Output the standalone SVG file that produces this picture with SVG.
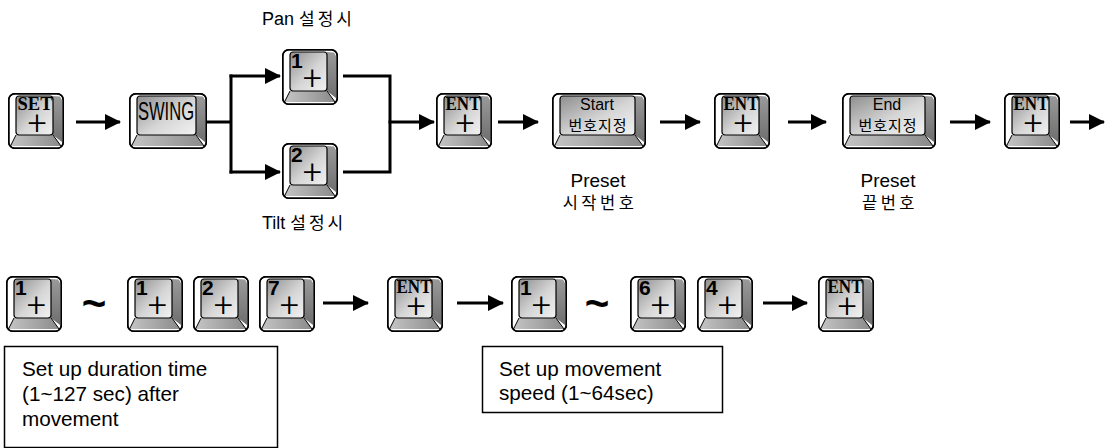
<svg xmlns="http://www.w3.org/2000/svg" xmlns:xlink="http://www.w3.org/1999/xlink" width="1105" height="448" viewBox="0 0 1105 448">
<style>
.outer{fill:#fff;stroke:#000;stroke-width:1.5}
.rb{fill:url(#gRight)}
.bb{fill:url(#gBottom)}
.face{fill:url(#gFace);stroke:#000;stroke-width:1.2}
.edge{stroke:#000;stroke-width:1;fill:none}
.conn{stroke:#000;stroke-width:3;fill:none}
.lbl{font-family:"Liberation Sans","Noto Sans CJK KR",sans-serif;fill:#000}
.kr{font-family:"Noto Sans CJK KR","Liberation Sans",sans-serif}
.serifkey{font-family:"Liberation Serif","Times New Roman",serif;font-weight:bold;font-size:19px;fill:#000}
.digit{font-family:"Liberation Sans",Arial,sans-serif;font-weight:bold;font-size:21px;fill:#000}
.plus{font-family:Roboto,"DejaVu Sans",sans-serif;font-weight:300;font-size:34px;fill:#000}
.pm{text-anchor:middle}
.tilde{font-family:"Liberation Sans",Arial,sans-serif;font-weight:bold;font-size:42px;text-anchor:middle}
.box{fill:#fff;stroke:#000;stroke-width:1.5}
.boxt{font-family:"Liberation Sans",Arial,sans-serif;font-size:20.7px;fill:#000}
</style>
<defs>
<linearGradient id="gFace" x1="0" y1="0" x2="1" y2="1">
<stop offset="0" stop-color="#8e8e8e"/>
<stop offset="0.55" stop-color="#d6d6d6"/>
<stop offset="1" stop-color="#f2f2f2"/>
</linearGradient>
<linearGradient id="gRight" x1="0" y1="0" x2="0" y2="1">
<stop offset="0" stop-color="#9a9a9a"/>
<stop offset="1" stop-color="#6e6e6e"/>
</linearGradient>
<linearGradient id="gBottom" x1="0" y1="0" x2="1" y2="0">
<stop offset="0" stop-color="#c4c4c4"/>
<stop offset="0.5" stop-color="#a8a8a8"/>
<stop offset="1" stop-color="#8a8a8a"/>
</linearGradient>
<marker id="arr" viewBox="0 0 16 16" refX="15" refY="8" markerWidth="16" markerHeight="16" markerUnits="userSpaceOnUse" orient="auto">
<path d="M0,0 L16,8 L0,16 z" fill="#000"/>
</marker>
<g id="k56">
<rect class="outer" x="0.75" y="0.75" width="54.5" height="54.5" rx="6"/>
<polygon class="rb" points="45,3 52,3.5 54,7 54,49 45,42"/>
<polygon class="bb" points="8,42 45,42 53,53 2.5,53"/>
<rect class="face" x="8" y="3" width="37" height="39" rx="3"/>
<path class="edge" d="M8,42 L2.5,53 M45,42 L53,53"/>
<rect x="0.75" y="0.75" width="54.5" height="54.5" rx="6" fill="none" stroke="#000" stroke-width="1.5"/>
</g>
<g id="k77">
<rect class="outer" x="0.75" y="0.75" width="76.5" height="54.5" rx="6"/>
<polygon class="rb" points="67,3 74,3.5 76,7 76,49 67,42"/>
<polygon class="bb" points="8,42 67,42 75,53 2.5,53"/>
<rect class="face" x="8" y="3" width="59" height="39" rx="3"/>
<path class="edge" d="M8,42 L2.5,53 M67,42 L75,53"/>
<rect x="0.75" y="0.75" width="76.5" height="54.5" rx="6" fill="none" stroke="#000" stroke-width="1.5"/>
</g>
<g id="k93">
<rect class="outer" x="0.75" y="0.75" width="92.5" height="54.5" rx="6"/>
<polygon class="rb" points="83,3 90,3.5 92,7 92,49 83,42"/>
<polygon class="bb" points="8,42 83,42 91,53 2.5,53"/>
<rect class="face" x="8" y="3" width="75" height="39" rx="3"/>
<path class="edge" d="M8,42 L2.5,53 M83,42 L91,53"/>
<rect x="0.75" y="0.75" width="92.5" height="54.5" rx="6" fill="none" stroke="#000" stroke-width="1.5"/>
</g>
</defs>
<rect width="1105" height="448" fill="#fff"/>

<g id="connectors">
<path class="conn" d="M76,122 H120" marker-end="url(#arr)"/>
<path class="conn" d="M206,122 H231 M231,74.5 V173.5"/>
<path class="conn" d="M229.5,76 H280" marker-end="url(#arr)"/>
<path class="conn" d="M229.5,172 H280" marker-end="url(#arr)"/>
<path class="conn" d="M343,76 H390 V172 H343"/>
<path class="conn" d="M388.5,122 H434" marker-end="url(#arr)"/>
<path class="conn" d="M498,122 H538" marker-end="url(#arr)"/>
<path class="conn" d="M660,122 H700" marker-end="url(#arr)"/>
<path class="conn" d="M788,122 H826" marker-end="url(#arr)"/>
<path class="conn" d="M950,122 H990" marker-end="url(#arr)"/>
<path class="conn" d="M1070,122 H1104" marker-end="url(#arr)"/>
<path class="conn" d="M323,303 H368" marker-end="url(#arr)"/>
<path class="conn" d="M457,303 H503" marker-end="url(#arr)"/>
<path class="conn" d="M763,303 H807" marker-end="url(#arr)"/>
</g>

<g id="label-pan"><text class="lbl" x="262" y="25" font-size="18">Pan <tspan class="kr" font-size="17" letter-spacing="3">설정시</tspan></text></g>
<g id="label-tilt"><text class="lbl" x="262" y="229" font-size="18">Tilt <tspan class="kr" font-size="17" letter-spacing="3">설정시</tspan></text></g>

<g id="key-set">
<use xlink:href="#k56" href="#k56" transform="translate(8,93)"/>
<text class="serifkey"><tspan x="35" y="110" text-anchor="middle" textLength="35" lengthAdjust="spacingAndGlyphs">SET</tspan><tspan class="plus pm" x="37" y="134">+</tspan></text>
</g>
<g id="key-swing">
<use xlink:href="#k77" href="#k77" transform="translate(129,93)"/>
<text class="lbl" x="166" y="120" font-size="25" text-anchor="middle" textLength="56" lengthAdjust="spacingAndGlyphs">SWING</text>
</g>
<g id="key-pan1">
<use xlink:href="#k56" href="#k56" transform="translate(282,49)"/>
<text class="digit" x="291" y="68">1<tspan class="plus" dy="21">+</tspan></text>
</g>
<g id="key-tilt2">
<use xlink:href="#k56" href="#k56" transform="translate(282,143)"/>
<text class="digit" x="291" y="162">2<tspan class="plus" dy="21">+</tspan></text>
</g>
<g id="key-ent1">
<use xlink:href="#k56" href="#k56" transform="translate(436,93)"/>
<text class="serifkey"><tspan x="463" y="110" text-anchor="middle" textLength="35" lengthAdjust="spacingAndGlyphs">ENT</tspan><tspan class="plus pm" x="465" y="134">+</tspan></text>
</g>
<g id="key-start">
<use xlink:href="#k93" href="#k93" transform="translate(552,93)"/>
<text class="lbl" font-size="16" fill="#222"><tspan x="597" y="110" text-anchor="middle">Start</tspan><tspan class="kr" x="598" y="131" font-size="15" text-anchor="middle" letter-spacing="1">번호지정</tspan></text>
</g>
<g id="key-ent2">
<use xlink:href="#k56" href="#k56" transform="translate(714,93)"/>
<text class="serifkey"><tspan x="741" y="110" text-anchor="middle" textLength="35" lengthAdjust="spacingAndGlyphs">ENT</tspan><tspan class="plus pm" x="743" y="134">+</tspan></text>
</g>
<g id="key-end">
<use xlink:href="#k93" href="#k93" transform="translate(842,93)"/>
<text class="lbl" font-size="16" fill="#222"><tspan x="887" y="110" text-anchor="middle">End</tspan><tspan class="kr" x="888" y="131" font-size="15" text-anchor="middle" letter-spacing="1">번호지정</tspan></text>
</g>
<g id="key-ent3">
<use xlink:href="#k56" href="#k56" transform="translate(1004,93)"/>
<text class="serifkey"><tspan x="1031" y="110" text-anchor="middle" textLength="35" lengthAdjust="spacingAndGlyphs">ENT</tspan><tspan class="plus pm" x="1033" y="134">+</tspan></text>
</g>

<g id="label-start">
<text class="lbl" font-size="19" text-anchor="middle"><tspan x="598" y="187">Preset</tspan><tspan class="kr" x="600" y="209" font-size="16.5" letter-spacing="3.5">시작번호</tspan></text>
</g>
<g id="label-end">
<text class="lbl" font-size="19" text-anchor="middle"><tspan x="888" y="187">Preset</tspan><tspan class="kr" x="890" y="209" font-size="16.5" letter-spacing="3.5">끝번호</tspan></text>
</g>

<g id="row2-k1a">
<use xlink:href="#k56" href="#k56" transform="translate(6,276)"/>
<text class="digit" x="15" y="295">1<tspan class="plus" dy="21">+</tspan></text>
</g>
<g id="row2-tilde1"><text class="tilde" x="94" y="318">~</text></g>
<g id="row2-k1b">
<use xlink:href="#k56" href="#k56" transform="translate(127,276)"/>
<text class="digit" x="136" y="295">1<tspan class="plus" dy="21">+</tspan></text>
</g>
<g id="row2-k2">
<use xlink:href="#k56" href="#k56" transform="translate(193,276)"/>
<text class="digit" x="202" y="295">2<tspan class="plus" dy="21">+</tspan></text>
</g>
<g id="row2-k7">
<use xlink:href="#k56" href="#k56" transform="translate(259,276)"/>
<text class="digit" x="268" y="295">7<tspan class="plus" dy="21">+</tspan></text>
</g>
<g id="row2-ent1">
<use xlink:href="#k56" href="#k56" transform="translate(387,276)"/>
<text class="serifkey"><tspan x="414" y="293" text-anchor="middle" textLength="35" lengthAdjust="spacingAndGlyphs">ENT</tspan><tspan class="plus pm" x="416" y="317">+</tspan></text>
</g>
<g id="row2-k1c">
<use xlink:href="#k56" href="#k56" transform="translate(511,276)"/>
<text class="digit" x="520" y="295">1<tspan class="plus" dy="21">+</tspan></text>
</g>
<g id="row2-tilde2"><text class="tilde" x="597" y="318">~</text></g>
<g id="row2-k6">
<use xlink:href="#k56" href="#k56" transform="translate(630,276)"/>
<text class="digit" x="639" y="295">6<tspan class="plus" dy="21">+</tspan></text>
</g>
<g id="row2-k4">
<use xlink:href="#k56" href="#k56" transform="translate(697,276)"/>
<text class="digit" x="706" y="295">4<tspan class="plus" dy="21">+</tspan></text>
</g>
<g id="row2-ent2">
<use xlink:href="#k56" href="#k56" transform="translate(818,276)"/>
<text class="serifkey"><tspan x="845" y="293" text-anchor="middle" textLength="35" lengthAdjust="spacingAndGlyphs">ENT</tspan><tspan class="plus pm" x="847" y="317">+</tspan></text>
</g>

<g id="box-duration">
<rect class="box" x="4.5" y="346.5" width="273" height="101"/>
<text class="boxt" x="22" y="376">Set up duration time</text>
<text class="boxt" x="22" y="401">(1~127 sec) after</text>
<text class="boxt" x="22" y="426">movement</text>
</g>
<g id="box-speed">
<rect class="box" x="482.5" y="346.5" width="240" height="66"/>
<text class="boxt" x="499" y="376">Set up movement</text>
<text class="boxt" x="499" y="400">speed (1~64sec)</text>
</g>
</svg>
